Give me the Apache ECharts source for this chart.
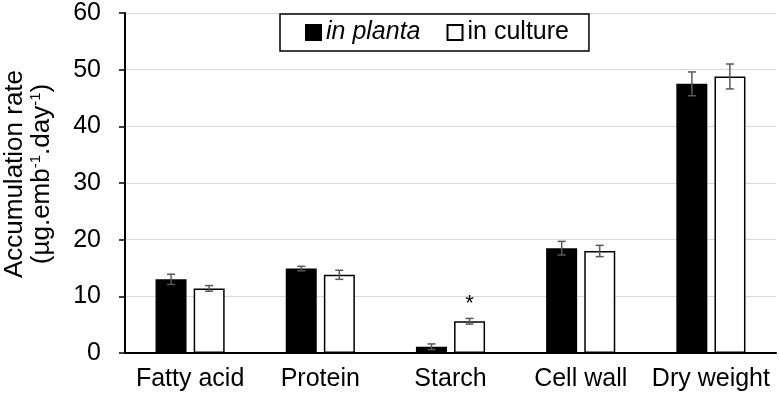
<!DOCTYPE html>
<html><head><meta charset="utf-8">
<script src="https://cdn.jsdelivr.net/npm/echarts@6/dist/echarts.min.js"></script>
<style>html,body{margin:0;padding:0;background:#fff}#c{width:779px;height:400px}</style>
</head><body><div id="c"></div>
<script>
const categories = ['Fatty acid', 'Protein', 'Starch', 'Cell wall', 'Dry weight'];
const plantaValues = [13.0, 14.9, 1.1, 18.5, 47.5];
const plantaErrors = [0.9, 0.4, 0.5, 1.2, 2.1];
const cultureValues = [11.4, 13.8, 5.6, 18.0, 48.8];
const cultureErrors = [0.5, 0.8, 0.5, 1.0, 2.2];
const yTicks = [0, 10, 20, 30, 40, 50, 60];
const significant = [false, false, true, false, false];

const FONT = 'Liberation Sans, Arial, sans-serif';
const chart = echarts.init(document.getElementById('c'));

function errSeries(values, errors, offset) {
  return {
    type: 'custom',
    silent: true,
    z: 10,
    data: values.map((v, i) => [i, v, errors[i]]),
    renderItem: function (params, api) {
      const i = api.value(0), v = api.value(1), e = api.value(2);
      const top = api.coord([i, v + e]);
      const bot = api.coord([i, v - e]);
      const x = top[0] + offset;
      const cw = 4;
      const style = { stroke: '#595959', lineWidth: 1.5 };
      return { type: 'group', children: [
        { type: 'line', shape: { x1: x, y1: top[1], x2: x, y2: bot[1] }, style },
        { type: 'line', shape: { x1: x - cw, y1: top[1], x2: x + cw, y2: top[1] }, style },
        { type: 'line', shape: { x1: x - cw, y1: bot[1], x2: x + cw, y2: bot[1] }, style }
      ]};
    }
  };
}

chart.setOption({
  animation: false,
  textStyle: { fontFamily: FONT },
  grid: { left: 125, right: 3, top: 13, bottom: 47, containLabel: false, outerBoundsMode: 'none' },
  legend: {
    left: 280, top: 14,
    padding: [6, 20, 6, 25],
    borderColor: '#000', borderWidth: 1.5,
    itemWidth: 15, itemHeight: 15, itemGap: 26,
    icon: 'rect',
    textStyle: { fontSize: 25, color: '#000', fontFamily: FONT },
    data: [
      { name: 'in planta', textStyle: { fontStyle: 'italic' } },
      { name: 'in culture' }
    ]
  },
  xAxis: {
    type: 'category',
    data: categories,
    axisLine: { lineStyle: { color: '#000', width: 2 } },
    axisTick: { show: false },
    axisLabel: { fontSize: 25, color: '#000', margin: 14, fontFamily: FONT,
      interval: 0, hideOverlap: false }
  },
  yAxis: {
    type: 'value',
    min: 0, max: 60, interval: 10,
    axisLine: { show: true, lineStyle: { color: '#000', width: 2 } },
    axisTick: { show: true, length: 6, lineStyle: { color: '#000', width: 1.5 } },
    axisLabel: { fontSize: 25, color: '#000', margin: 24, fontFamily: FONT,
      formatter: v => yTicks.includes(v) ? String(v) : '' },
    splitLine: { lineStyle: { color: '#d9d9d9', width: 1 } },
    name: '{a|Accumulation rate}\n{a|(µg.emb}{s|-1}{a|.day}{s|-1}{a|)}',
    nameLocation: 'middle',
    nameRotate: 90,
    nameGap: 70,
    nameTextStyle: {
      padding: [0, 0, 0, 18],
      rich: {
        a: { fontSize: 26, color: '#000', fontFamily: FONT, lineHeight: 27 },
        s: { fontSize: 15, color: '#000', fontFamily: FONT, verticalAlign: 'top', lineHeight: 27, padding: [0,0,10,0] }
      }
    }
  },
  series: [
    {
      name: 'in planta', type: 'bar', barWidth: 31, barGap: '23%',
      itemStyle: { color: '#000', borderColor: '#000', borderWidth: 1.5 },
      data: plantaValues
    },
    {
      name: 'in culture', type: 'bar', barWidth: 31, barGap: '23%',
      itemStyle: { color: '#fff', borderColor: '#000', borderWidth: 1.5 },
      label: { show: true, position: 'top', distance: 6, fontSize: 22, color: '#000',
        formatter: p => significant[p.dataIndex] ? '*' : '' },
      data: cultureValues
    },
    errSeries(plantaValues, plantaErrors, -19),
    errSeries(cultureValues, cultureErrors, 19)
  ]
});
</script></body></html>
